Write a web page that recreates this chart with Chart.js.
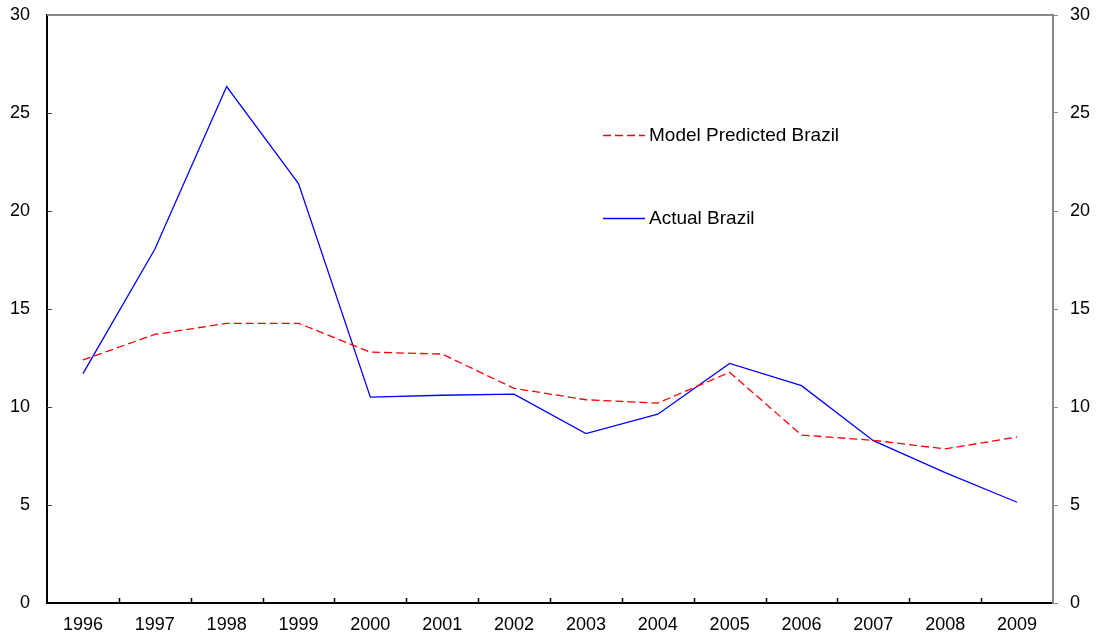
<!DOCTYPE html>
<html>
<head>
<meta charset="utf-8">
<script src="https://cdn.jsdelivr.net/npm/chart.js@4"></script>
<style>
html,body{margin:0;padding:0;background:#fff;}
canvas{display:block;}
</style>
</head>
<body>
<canvas id="c" width="1096" height="635"></canvas>
<script>
const years = ['1996','1997','1998','1999','2000','2001','2002','2003','2004','2005','2006','2007','2008','2009'];
const modelPredicted = [12.4, 13.7, 14.27, 14.27, 12.8, 12.7, 10.95, 10.37, 10.2, 11.77, 8.57, 8.3, 7.86, 8.47];
const actualBrazil = [11.7, 18.05, 26.35, 21.4, 10.5, 10.6, 10.66, 8.64, 9.63, 12.22, 11.09, 8.28, 6.65, 5.14];
const yTicks = [0, 5, 10, 15, 20, 25, 30];

const FONT = 'Liberation Sans, Arial, sans-serif';

const decor = {
  id: 'decor',
  afterDraw(chart) {
    const ctx = chart.ctx;
    const a = chart.chartArea;
    const xs = chart.scales.x;
    const yl = chart.scales.y;
    ctx.save();
    ctx.strokeStyle = '#888888';
    ctx.lineWidth = 2;
    ctx.beginPath();
    ctx.moveTo(a.left, a.top);
    ctx.lineTo(a.right, a.top);
    ctx.stroke();
    ctx.strokeStyle = '#000';
    ctx.lineWidth = 1.5;
    const n = years.length;
    for (let i = 0; i < n - 1; i++) {
      const x = (xs.getPixelForValue(i) + xs.getPixelForValue(i + 1)) / 2;
      ctx.beginPath();
      ctx.moveTo(Math.round(x) + 0.5, a.bottom);
      ctx.lineTo(Math.round(x) + 0.5, a.bottom - 5);
      ctx.stroke();
    }
    ctx.strokeStyle = '#444';
    ctx.lineWidth = 1;
    yTicks.forEach(v => {
      if (v === 0 || v === 30) return;
      const y = Math.round(yl.getPixelForValue(v)) + 0.5;
      ctx.beginPath();
      ctx.moveTo(a.left, y);
      ctx.lineTo(a.left + 5, y);
      ctx.stroke();
    });
    const items = [
      {ds: chart.data.datasets[0], y: 135},
      {ds: chart.data.datasets[1], y: 218}
    ];
    ctx.font = '19px ' + FONT;
    ctx.textBaseline = 'middle';
    ctx.fillStyle = '#000';
    items.forEach(it => {
      ctx.strokeStyle = it.ds.borderColor;
      ctx.lineWidth = it.ds.borderWidth;
      ctx.setLineDash(it.ds.borderDash || []);
      ctx.beginPath();
      ctx.moveTo(603, it.y + 0.5);
      ctx.lineTo(645, it.y + 0.5);
      ctx.stroke();
      ctx.setLineDash([]);
      ctx.fillText(it.ds.label, 649, it.y + 1);
    });
    ctx.restore();
  }
};

function fixPad(s) { s.paddingTop = 0; s.paddingBottom = 0; }

new Chart(document.getElementById('c'), {
  type: 'line',
  data: {
    labels: years,
    datasets: [
      {
        label: 'Model Predicted Brazil',
        data: modelPredicted,
        borderColor: '#ff0000',
        borderWidth: 1.3,
        borderDash: [8, 4],
        pointRadius: 0,
        tension: 0,
        fill: false,
        yAxisID: 'y'
      },
      {
        label: 'Actual Brazil',
        data: actualBrazil,
        borderColor: '#0000ff',
        borderWidth: 1.3,
        pointRadius: 0,
        tension: 0,
        fill: false,
        yAxisID: 'y'
      }
    ]
  },
  options: {
    responsive: false,
    animation: false,
    devicePixelRatio: 1,
    layout: { padding: { top: 15, left: 0, right: 0, bottom: 0 } },
    plugins: { legend: { display: false }, tooltip: { enabled: false } },
    scales: {
      x: {
        type: 'category',
        offset: true,
        grid: { display: false, drawTicks: false, tickLength: 0 },
        border: { display: true, color: '#000', width: 2 },
        ticks: { color: '#000', font: { family: FONT, size: 18 }, padding: 11, maxRotation: 0, autoSkip: false },
        afterFit(s) { s.height = 32; s.paddingLeft = 0; s.paddingRight = 0; }
      },
      y: {
        position: 'left',
        min: 0, max: 30,
        grid: { display: false, drawTicks: false, tickLength: 0 },
        border: { display: true, color: '#000', width: 2 },
        ticks: { stepSize: 5, color: '#000', font: { family: FONT, size: 18 }, padding: 17 },
        afterFit(s) { s.width = 47; fixPad(s); }
      },
      y2: {
        position: 'right',
        min: 0, max: 30,
        grid: { display: true, drawOnChartArea: false, drawTicks: true, tickLength: 5, color: '#888888', lineWidth: 1 },
        border: { display: true, color: '#888888', width: 2 },
        ticks: { stepSize: 5, color: '#000', font: { family: FONT, size: 18 }, padding: 12 },
        afterFit(s) { s.width = 43; fixPad(s); }
      }
    }
  },
  plugins: [decor]
});
</script>
</body>
</html>
